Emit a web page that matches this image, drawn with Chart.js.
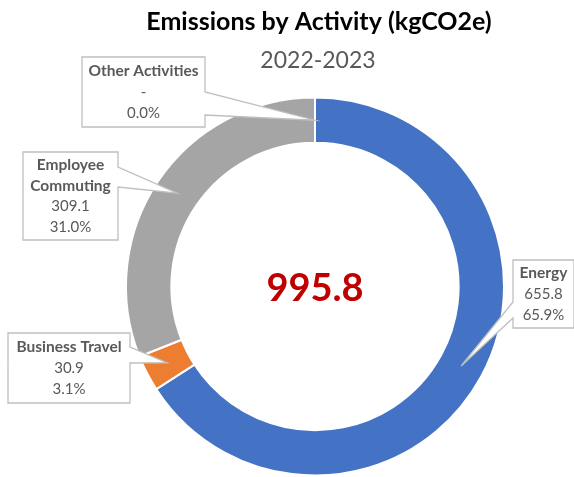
<!DOCTYPE html>
<html lang="en">
<head>
    <meta charset="UTF-8">
    <title>Emissions by Activity</title>
    <script src="https://cdn.jsdelivr.net/npm/chart.js@4/dist/chart.umd.min.js"></script>
    <style>
        html, body { margin: 0; padding: 0; background: #fff; }
        #container { width: 574px; height: 477px; }
    </style>
</head>
<body>
<div id="container">
    <canvas id="canvas"></canvas>
</div>
<script>
    var CATEGORIES = ['Energy', 'Business Travel', 'Employee Commuting', 'Other Activities'];
    var VALUES = [655.8, 30.9, 309.1, 0];
    var COLORS = ['#4472C4', '#ED7D31', '#A5A5A5', '#FFC000'];
    var TITLE = 'Emissions by Activity (kgCO2e)';
    var SUBTITLE = '2022-2023';

    // callout boxes (pixel layout), one per category, same order
    var CALLOUTS = [
        {x: 513, y: 260, w: 61, h: 68, side: 'left', n1: 42, n2: 58},
        {x: 8, y: 333, w: 122, h: 70, side: 'right', n1: 14, n2: 30},
        {x: 23, y: 152, w: 95, h: 88, side: 'right', n1: 15, n2: 35},
        {x: 82, y: 57, w: 123, h: 70, side: 'right', n1: 35, n2: 58}
    ];

    var FONT = "Lato, 'Open Sans', sans-serif";

    function total() {
        return VALUES.reduce(function(a, b) { return a + b; }, 0);
    }

    function calloutPath(ctx, c, tip) {
        ctx.beginPath();
        ctx.moveTo(c.x, c.y);
        ctx.lineTo(c.x + c.w, c.y);
        if (c.side === 'right') {
            ctx.lineTo(c.x + c.w, c.y + c.n1);
            ctx.lineTo(tip.x, tip.y);
            ctx.lineTo(c.x + c.w, c.y + c.n2);
        }
        ctx.lineTo(c.x + c.w, c.y + c.h);
        ctx.lineTo(c.x, c.y + c.h);
        if (c.side === 'left') {
            ctx.lineTo(c.x, c.y + c.n2);
            ctx.lineTo(tip.x, tip.y);
            ctx.lineTo(c.x, c.y + c.n1);
        }
        ctx.closePath();
    }

    function wrap(ctx, text, maxW) {
        var words = text.split(' ');
        var lines = [];
        var cur = '';
        words.forEach(function(w) {
            var t = cur ? cur + ' ' + w : w;
            if (cur && ctx.measureText(t).width > maxW) {
                lines.push(cur);
                cur = w;
            } else {
                cur = t;
            }
        });
        if (cur) lines.push(cur);
        return lines;
    }

    var textPlugin = {
        id: 'texts',
        afterDraw: function(chart) {
            var ctx = chart.ctx;
            var meta = chart.getDatasetMeta(0);
            var sum = total();
            ctx.save();

            // title + subtitle
            ctx.textAlign = 'center';
            ctx.textBaseline = 'middle';
            ctx.fillStyle = '#000';
            ctx.font = 'bold 25px ' + FONT;
            ctx.fillText(TITLE, 319, 22);
            ctx.fillStyle = '#595959';
            ctx.font = '23px ' + FONT;
            ctx.fillText(SUBTITLE, 318, 61);

            // centre total
            var arc0 = meta.data[0];
            ctx.fillStyle = '#C00000';
            ctx.font = 'bold 38px ' + FONT;
            ctx.fillText(sum.toFixed(1), arc0.x, arc0.y + 2);

            // callouts
            meta.data.forEach(function(arc, i) {
                var c = CALLOUTS[i];
                var tip = arc.tooltipPosition();
                calloutPath(ctx, c, tip);
                ctx.fillStyle = '#fff';
                ctx.fill();
                ctx.strokeStyle = '#BFBFBF';
                ctx.lineWidth = 1.3;
                ctx.stroke();

                ctx.font = 'bold 15.5px ' + FONT;
                var lines = wrap(ctx, CATEGORIES[i], c.w - 4);
                var v = VALUES[i];
                var rows = lines.map(function(l) { return {t: l, b: true}; });
                rows.push({t: v === 0 ? '-' : v.toFixed(1), b: false});
                rows.push({t: (v / sum * 100).toFixed(1) + '%', b: false});

                var cx = c.x + c.w / 2;
                var lh = 21;
                var y0 = c.y + c.h / 2 - (rows.length - 1) * lh / 2;
                ctx.fillStyle = '#595959';
                rows.forEach(function(r, k) {
                    ctx.font = r.b ? 'bold 15.5px ' + FONT : '15px ' + FONT;
                    ctx.fillText(r.t, cx, y0 + k * lh);
                });
            });
            ctx.restore();
        }
    };

    window.onload = function() {
        var ctx = document.getElementById('canvas').getContext('2d');
        window.myChart = new Chart(ctx, {
            type: 'doughnut',
            data: {
                labels: CATEGORIES,
                datasets: [{
                    data: VALUES,
                    backgroundColor: COLORS,
                    borderColor: '#fff',
                    borderWidth: 2
                }]
            },
            options: {
                responsive: true,
                maintainAspectRatio: false,
                animation: false,
                cutout: '76%',
                layout: {
                    padding: {left: 125, right: 69, top: 96, bottom: 0}
                },
                plugins: {
                    legend: { display: false },
                    title: { display: false },
                    tooltip: { enabled: false }
                }
            },
            plugins: [textPlugin]
        });
    };
</script>
</body>
</html>
